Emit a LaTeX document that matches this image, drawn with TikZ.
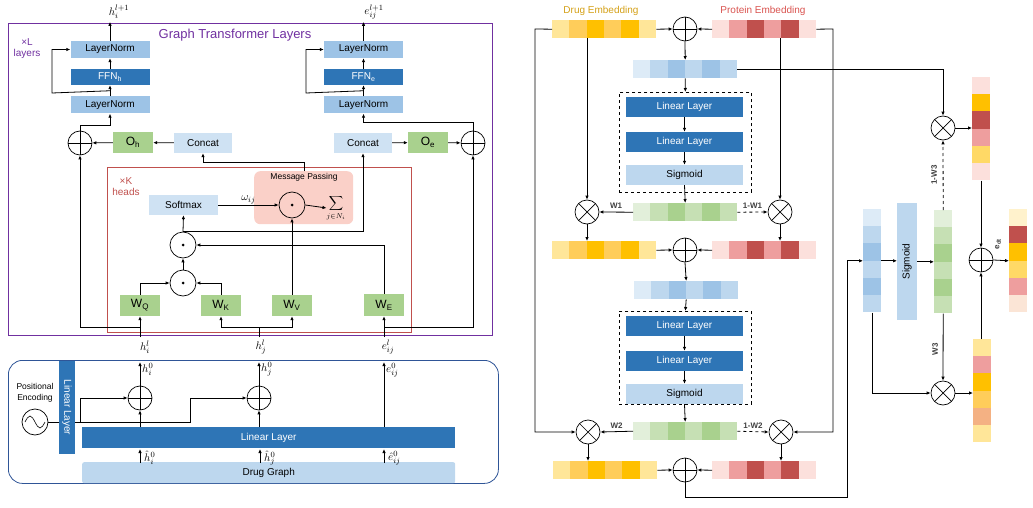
\documentclass[tikz,border=0pt]{standalone}
\usepackage{fontspec}
\setmainfont{Liberation Sans}
\usetikzlibrary{arrows.meta,calc}
\definecolor{dA}{HTML}{FFE699}\definecolor{dB}{HTML}{FFCD5A}\definecolor{dC}{HTML}{FFC000}\definecolor{dD}{HTML}{FFD966}
\definecolor{pA}{HTML}{FCE0DC}\definecolor{pB}{HTML}{EE9E9E}\definecolor{pC}{HTML}{C0504D}\definecolor{pD}{HTML}{F4B183}\definecolor{pE}{HTML}{FFF2CC}\definecolor{pF}{HTML}{FBE5D6}
\definecolor{bA}{HTML}{DDEBF7}\definecolor{bB}{HTML}{BDD7EE}\definecolor{bC}{HTML}{9DC3E6}
\definecolor{gA}{HTML}{E2EFDA}\definecolor{gB}{HTML}{C6E0B4}\definecolor{gC}{HTML}{A9D18E}
\definecolor{ffn}{HTML}{2E75B6}\definecolor{lnc}{HTML}{9DC3E6}\definecolor{lite}{HTML}{CFE2F3}
\definecolor{purp}{HTML}{7030A0}\definecolor{redb}{HTML}{C0504D}\definecolor{pinkm}{HTML}{FAD0C8}
\definecolor{embd}{HTML}{D4A017}\definecolor{embp}{HTML}{D9534F}\definecolor{bbox}{HTML}{2F5597}
\newcommand\hrow[4]{\foreach \c [count=\k] in {#4}{\fill[\c] ({#2+(\k-1)*17.33},#3) rectangle ++(17.33,18);}
  \node[inner sep=0,minimum width=104pt,minimum height=18pt,anchor=north west] (#1) at (#2,#3) {};}
\newcommand\vrow[4]{\foreach \c [count=\k] in {#4}{\fill[\c] (#2,{#3+(\k-1)*17.2}) rectangle ++(18,17.2);}
  \node[inner sep=0,minimum width=18pt,minimum height=103.2pt,anchor=north west] (#1) at (#2,#3) {};}
\tikzset{
 arr/.style={-{Latex[length=4pt,width=3.5pt]},line width=0.8pt},
 ln/.style={line width=0.8pt},
 box/.style={inner sep=0,font=\fontsize{10}{11}\selectfont},
 mth/.style={inner sep=0,font=\fontsize{11}{12}\selectfont},
 op/.style={circle,draw,line width=0.7pt,minimum size=24pt,inner sep=0},
 oplus/.style={op,path picture={\draw[line width=0.7pt] (path picture bounding box.north)--(path picture bounding box.south) (path picture bounding box.west)--(path picture bounding box.east);}},
 otimes/.style={op,path picture={\draw[line width=0.7pt] (path picture bounding box.north west)--(path picture bounding box.south east) (path picture bounding box.north east)--(path picture bounding box.south west);}},
 odot/.style={op,minimum size=26pt,path picture={\fill (path picture bounding box.center) circle (1.5pt);}},
 lab/.style={font=\fontsize{8}{9}\selectfont\bfseries,text=black!75,inner sep=0},
}
\begin{document}
\begin{tikzpicture}[x=1pt,y=-1pt]
\useasboundingbox (0,0) rectangle (1033,508);
% ================= LEFT: Graph transformer =================
\node[draw=purp,line width=1.2pt,minimum width=484pt,minimum height=312pt,anchor=north west,inner sep=0] (gtl) at (8,23) {};
\node[text=purp,font=\fontsize{13}{14}\selectfont] (gtit) at (235,35) {Graph Transformer Layers};
\node[text=purp,font=\fontsize{10}{11}\selectfont,align=center,inner sep=0] (xl) at (27,49) {×L\\layers};
\node[box,fill=lnc,minimum width=79pt,minimum height=17pt] (lnA1) at (110,49.5) {LayerNorm};
\node[box,fill=ffn,text=white,minimum width=79pt,minimum height=16pt] (ffnA) at (110,77) {FFN\textsubscript{h}};
\node[box,fill=lnc,minimum width=79pt,minimum height=17pt] (lnA2) at (110,105) {LayerNorm};
\node[box,fill=lnc,minimum width=79pt,minimum height=17pt] (lnB1) at (363.5,49.5) {LayerNorm};
\node[box,fill=ffn,text=white,minimum width=79pt,minimum height=16pt] (ffnB) at (363.5,77) {FFN\textsubscript{e}};
\node[box,fill=lnc,minimum width=79pt,minimum height=17pt] (lnB2) at (363.5,105) {LayerNorm};
\node[mth] (hout) at (119,12) {$h_i^{l+1}$};
\node[mth] (eout) at (374,12) {$e_{ij}^{l+1}$};
\draw[arr] (lnA1.north) -- ++(0,-19);
\draw[arr] (lnB1.north) -- ++(0,-19);
\draw[arr] (lnA2) -- (ffnA); \draw[arr] (ffnA) -- (lnA1);
\draw[arr] (lnB2) -- (ffnB); \draw[arr] (ffnB) -- (lnB1);
\draw[arr] ($(lnA2.north)!0.5!(ffnA.south)$) -- (52,93) |- (lnA1.west);
\draw[arr] ($(lnB2.north)!0.5!(ffnB.south)$) -- (306,93) |- (lnB1.west);
\node[oplus] (pAd) at (80,143) {};
\node[box,fill=gC,minimum width=40pt,minimum height=21pt,font=\fontsize{12}{13}\selectfont] (oh) at (133,142.5) {O\textsubscript{h}};
\node[box,fill=lite,minimum width=58pt,minimum height=20pt] (catA) at (203,143) {Concat};
\node[box,fill=lite,minimum width=58pt,minimum height=20pt] (catB) at (363,143) {Concat};
\node[box,fill=gC,minimum width=40pt,minimum height=21pt,font=\fontsize{12}{13}\selectfont] (oe) at (428,142.5) {O\textsubscript{e}};
\node[oplus] (pBd) at (473,143) {};
\draw[arr] (catA) -- (oh); \draw[arr] (oh) -- (pAd);
\draw[arr] (catB) -- (oe); \draw[arr] (oe) -- (pBd);
\draw[arr] (pAd.north) -- ++(0,-5) -| (lnA2.south);
\draw[arr] (pBd.north) -- ++(0,-8) -| (lnB2.south);
% heads box
\node[draw=redb,line width=1pt,minimum width=304pt,minimum height=165pt,anchor=north west,inner sep=0] (hb) at (107,167) {};
\node[text=redb,font=\fontsize{10}{11}\selectfont,align=center,inner sep=0] (xk) at (126,187) {×K\\heads};
\node[fill=pinkm,rounded corners=6pt,minimum width=99pt,minimum height=53pt,anchor=north west,inner sep=0] (mp) at (254,171) {};
\node[font=\fontsize{8.5}{9}\selectfont,inner sep=0] (mpt) at (304,177) {Message Passing};
\node[box,fill=lite,minimum width=69pt,minimum height=20pt] (soft) at (183.5,205) {Softmax};
\node[odot] (dm) at (292,205) {};
\node[inner sep=0] (sum) at (336,208) {$\displaystyle\sum_{j\in N_i}$};
\draw[arr] (soft.east) -- node[above=1pt,inner sep=0,font=\fontsize{11}{12}\selectfont] {$\omega_{ij}$} (dm.west);
\draw[arr] (dm.east) -- (sum.west);
\draw[arr] (mp.north -| 304,0) -- ++(0,-9) -| (catA.south);
\node[odot] (dot2) at (183,245) {};
\node[odot] (dot1) at (183,283) {};
\draw[arr] (dot2.north) -- (soft.south);
\draw[arr] (183,231) -| (catB.south);
\draw[arr] (dot1) -- (dot2);
\node[box,fill=gC,minimum width=40pt,minimum height=21pt,font=\fontsize{12}{13}\selectfont] (wq) at (140,305.5) {W\textsubscript{Q}};
\node[box,fill=gC,minimum width=40pt,minimum height=21pt,font=\fontsize{12}{13}\selectfont] (wk) at (221,305.5) {W\textsubscript{K}};
\node[box,fill=gC,minimum width=40pt,minimum height=21pt,font=\fontsize{12}{13}\selectfont] (wv) at (292,305.5) {W\textsubscript{V}};
\node[box,fill=gC,minimum width=40pt,minimum height=22pt,font=\fontsize{12}{13}\selectfont] (we) at (384,305) {W\textsubscript{E}};
\draw[arr] (wq.north) |- (dot1.west);
\draw[arr] (wk.north) |- (dot1.east);
\draw[arr] (we.north) |- (dot2.east);
\draw[arr] (wv.north) -- (dm.south);
\node[mth] (hil) at (145,347) {$h_i^l$};
\node[mth] (hjl) at (261,347) {$h_j^l$};
\node[mth] (eijl) at (388,347) {$e_{ij}^l$};
\coordinate (ci) at (140,337); \coordinate (cj) at (259,337); \coordinate (ce) at (384,337);
\draw[arr] (ci) -- (wq.south);
\draw[arr] (ci) -- ++(0,-10) -| (pAd.south);
\draw[arr] (cj) -- ++(0,-10) -| (wk.south);
\draw[arr] (cj) -- ++(0,-10) -| (wv.south);
\draw[arr] (ce) -- (we.south);
\draw[arr] (ce) -- ++(0,-10) -| (pBd.south);
% ================= bottom embedding box =================
\node[draw=bbox,line width=0.8pt,rounded corners=14pt,minimum width=490pt,minimum height=123pt,anchor=north west,inner sep=0] (eb) at (8,360) {};
\node[font=\fontsize{8.5}{11}\selectfont,align=center,inner sep=0] (pe) at (35,393) {Positional\\Encoding};
\node[circle,draw,line width=0.7pt,minimum size=26pt,inner sep=0,path picture={\draw[line width=0.6pt] ($(path picture bounding box.center)+(-10,0)$) sin ++(5,-6) cos ++(5,6) sin ++(5,6) cos ++(5,-6);}] (sine) at (35,422) {};
\draw[ln] (sine.east) -- (80,422);
\node[box,fill=ffn,text=white,minimum width=16pt,minimum height=93pt,anchor=north west] (llv) at (59,361) {};
\node[rotate=-90,text=white,font=\fontsize{10}{11}\selectfont,inner sep=0] (llvt) at (67,407.5) {Linear Layer};
\node[oplus] (pb1) at (140,398) {};
\node[oplus] (pb2) at (259,398) {};
\draw[arr] (80,422) |- (pb1.west);
\draw[arr] (80,422) -- (190,422) |- (pb2.west);
\node[box,fill=ffn,text=white,minimum width=373pt,minimum height=21pt,anchor=north west] (ll) at (82,427) {Linear Layer};
\node[box,fill=bB,minimum width=373pt,minimum height=21pt,anchor=north west,rounded corners=2pt] (dg) at (82,462) {\raisebox{-5pt}{Drug Graph}};
\draw[arr] (pb1 |- ll.north) -- (pb1.south);
\draw[arr] (pb2 |- ll.north) -- (pb2.south);
\draw[arr] (pb1.north) -- (140,362);
\draw[arr] (pb2.north) -- (259,362);
\draw[arr] (384,427) -- (384,362);
\node[mth,anchor=west] (h0i) at (142,369) {$h_i^0$};
\node[mth,anchor=west] (h0j) at (261,369) {$h_j^0$};
\node[mth,anchor=west] (e0) at (386,370) {$e_{ij}^0$};
\draw[arr] (140,463) -- (140,449);
\draw[arr] (260,463) -- (260,449);
\draw[arr] (384,463) -- (384,449);
\node[mth,anchor=west] (hh1) at (144,458) {$\hat h_i^0$};
\node[mth,anchor=west] (hh2) at (264,458) {$\hat h_j^0$};
\node[mth,anchor=west] (hh3) at (388,458) {$\hat e_{ij}^0$};
% ================= RIGHT: fusion =================
\node[text=embd,font=\fontsize{10}{11}\selectfont] (dtit) at (601,11) {Drug Embedding};
\node[text=embp,font=\fontsize{10}{11}\selectfont] (ptit) at (763,11) {Protein Embedding};
\hrow{d1}{552}{20}{dA,dB,dC,dB,dC,dA}
\hrow{p1}{712}{20}{pA,pB,pC,pB,pC,pA}
\node[oplus] (s1) at (685,29) {};
\hrow{b1}{633}{60}{bA,bB,bC,bB,bC,bB}
\node[draw,dashed,line width=0.7pt,minimum width=132pt,minimum height=100pt,anchor=north west,inner sep=0] (db1) at (619,92) {};
\node[box,fill=ffn,text=white,minimum width=117pt,minimum height=20pt] (l11) at (684.5,107) {Linear Layer};
\node[box,fill=ffn,text=white,minimum width=117pt,minimum height=20pt] (l12) at (684.5,142) {Linear Layer};
\node[box,fill=bB,minimum width=117pt,minimum height=20pt] (sg1) at (684.5,175) {Sigmoid};
\hrow{g1}{633}{203}{gA,gB,gC,gB,gC,gB}
\node[otimes] (x1l) at (587,212) {};
\node[otimes] (x1r) at (780,212) {};
\hrow{d2}{552}{241}{dA,dB,dC,dB,dC,dA}
\hrow{p2}{712}{241}{pA,pB,pC,pB,pC,pA}
\node[oplus] (s2) at (685,250) {};
\hrow{b2}{634}{281}{bA,bB,bC,bB,bC,bB}
\node[draw,dashed,line width=0.7pt,minimum width=132pt,minimum height=93pt,anchor=north west,inner sep=0] (db2) at (619,311) {};
\node[box,fill=ffn,text=white,minimum width=117pt,minimum height=20pt] (l21) at (684.5,326) {Linear Layer};
\node[box,fill=ffn,text=white,minimum width=117pt,minimum height=20pt] (l22) at (684.5,361) {Linear Layer};
\node[box,fill=bB,minimum width=117pt,minimum height=20pt] (sg2) at (684.5,394) {Sigmoid};
\hrow{g2}{633}{422}{gA,gB,gC,gB,gC,gB}
\node[otimes] (x2l) at (588,432) {};
\node[otimes] (x2r) at (781,432) {};
\hrow{d3}{553}{461}{dA,dB,dC,dB,dC,dA}
\hrow{p3}{712}{461}{pA,pB,pC,pB,pC,pA}
\node[oplus] (s3) at (685,470) {};
% connections
\draw[arr] (d1.east) -- (s1.west); \draw[arr] (p1.west) -- (s1.east);
\draw[arr] (s1.south) -- (b1.north);
\draw[arr] (b1.south) -- (db1.north);
\draw[arr] (l11) -- (l12); \draw[arr] (l12) -- (sg1); \draw[arr] (sg1.south) -- (g1.north);
\draw[arr] (g1.west) -- node[lab,above=3pt,pos=0.5] {W1} (x1l.east);
\draw[arr,dashed] (g1.east) -- node[lab,above=3pt,pos=0.5] {1-W1} (x1r.west);
\draw[arr] (x1l |- d1.south) -- (x1l.north);
\draw[arr] (x1r |- p1.south) -- (x1r.north);
\draw[arr] (x1l.south) -- (x1l |- d2.north);
\draw[arr] (x1r.south) -- (x1r |- p2.north);
\draw[arr] (d2.east) -- (s2.west); \draw[arr] (p2.west) -- (s2.east);
\draw[arr] (s2.south) -- (b2.north);
\draw[arr] (b2.south) -- (db2.north);
\draw[arr] (l21) -- (l22); \draw[arr] (l22) -- (sg2); \draw[arr] (sg2.south) -- (g2.north);
\draw[arr] (g2.west) -- node[lab,above=3pt,pos=0.5] {W2} (x2l.east);
\draw[arr,dashed] (g2.east) -- node[lab,above=3pt,pos=0.5] {1-W2} (x2r.west);
\draw[arr] (d1.west) -- (535,29) |- (x2l.west);
\draw[arr] (p1.east) -- (833,29) |- (x2r.east);
\draw[arr] (x2l.south) -- (x2l |- d3.north);
\draw[arr] (x2r.south) -- (x2r |- p3.north);
\draw[arr] (d3.east) -- (s3.west); \draw[arr] (p3.west) -- (s3.east);
% right column
\vrow{vb}{863}{209}{bA,bB,bC,bB,bC,bB}
\node[fill=bB,minimum width=20pt,minimum height=117pt,inner sep=0,anchor=north west] (sgr) at (897,203) {};
\node[rotate=90,font=\fontsize{10}{11}\selectfont,inner sep=0] (sgrt) at (907,261.5) {Sigmoid};
\vrow{gr}{934}{210}{gA,gB,gC,gB,gC,gB}
\node[otimes] (x3) at (943,128) {};
\node[otimes] (x4) at (943,393) {};
\vrow{o1}{972}{77}{pA,dC,pC,pB,dD,pA}
\vrow{o2}{973}{339}{dA,pB,dC,dB,pD,dA}
\vrow{edt}{1009}{209}{pE,pC,dC,dD,pB,pF}
\node[oplus] (sr) at (981,260) {};
\draw[arr] (s3.south) |- (847,497) |- (vb.west);
\draw[arr] (b1.east) -| (x3.north);
\draw[arr] (vb.east) -- (sgr.west |- vb.east);
\draw[arr] (sgr.east |- gr.west) -- (gr.west);
\draw[arr,dashed] (gr.north) -- (x3.south);
\draw[arr] (gr.south) -- (x4.north);
\node[lab,rotate=90] (l3a) at (934,175) {1-W3};
\node[lab,rotate=90] (l3b) at (935,349) {W3};
\draw[arr] (vb.south) |- (x4.west);
\draw[arr] (x3.east) -- (o1.west |- x3.east);
\draw[arr] (x4.east) -- (o2.west |- x4.east);
\draw[arr] (o1.south -| sr) -- (sr.north);
\draw[arr] (o2.north -| sr) -- (sr.south);
\draw[arr] (sr.east) -- (edt.west);
\node[lab,rotate=90] (edtl) at (998,244) {e\textsubscript{dt}};
\end{tikzpicture}
\end{document}
